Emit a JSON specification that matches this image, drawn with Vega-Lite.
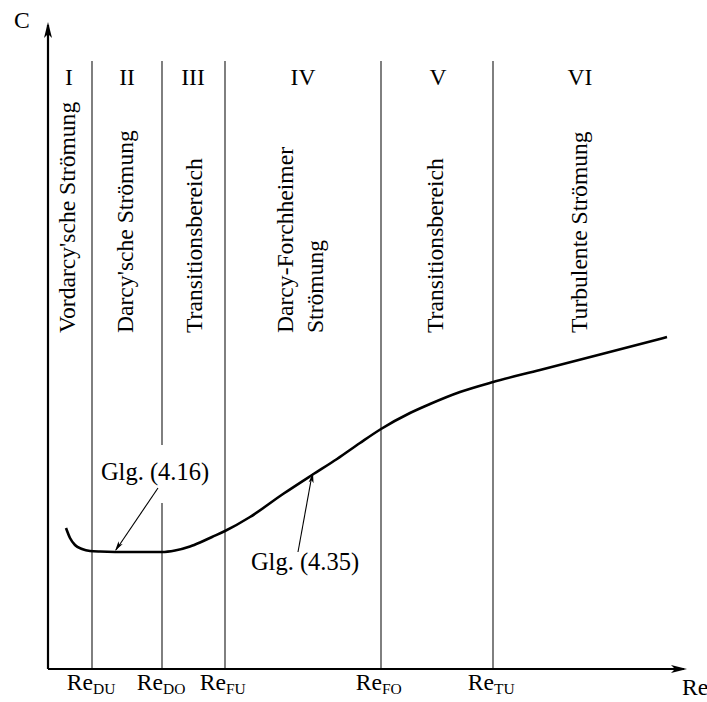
{
  "$schema": "https://vega.github.io/schema/vega-lite/v6.json",
  "width": 640,
  "height": 647,
  "autosize": {"type": "none"},
  "padding": {"left": 48, "top": 22, "right": 19, "bottom": 33},
  "background": "white",
  "config": {
    "view": {"stroke": null},
    "text": {"font": "Liberation Serif", "fontSize": 23.6, "color": "black"}
  },
  "datasets": {
    "vlines": [
      {"x": 44, "y1": 0, "y2": 608},
      {"x": 114, "y1": 0, "y2": 166},
      {"x": 114, "y1": 224, "y2": 608},
      {"x": 177, "y1": 0, "y2": 608},
      {"x": 333, "y1": 0, "y2": 608},
      {"x": 445, "y1": 0, "y2": 608}
    ],
    "axes": [
      {"x": 0, "y": 0, "x2": 0, "y2": 644},
      {"x": 0, "y": 0, "x2": 636, "y2": 0}
    ],
    "notes": [
      {"x": 110, "y": 181, "x2": 68, "y2": 119},
      {"x": 250, "y": 117, "x2": 264, "y2": 194}
    ],
    "heads": [
      {"name": "yaxis", "x": 0, "y": 647},
      {"name": "xaxis", "x": 639, "y": 0},
      {"name": "n416", "x": 67, "y": 118},
      {"name": "n435", "x": 265, "y": 196}
    ],
    "curve": [
      {"x": 18, "y": 141},
      {"x": 22, "y": 131},
      {"x": 27, "y": 124},
      {"x": 34, "y": 120},
      {"x": 42, "y": 118},
      {"x": 52, "y": 117.5},
      {"x": 82, "y": 117},
      {"x": 114, "y": 117},
      {"x": 127, "y": 118.5},
      {"x": 142, "y": 122.5},
      {"x": 152, "y": 126.5},
      {"x": 164, "y": 132},
      {"x": 177, "y": 138},
      {"x": 202, "y": 152},
      {"x": 235, "y": 175},
      {"x": 264, "y": 194},
      {"x": 289, "y": 210},
      {"x": 312, "y": 226},
      {"x": 333, "y": 240},
      {"x": 362, "y": 256},
      {"x": 382, "y": 265},
      {"x": 412, "y": 277},
      {"x": 445, "y": 287},
      {"x": 492, "y": 299},
      {"x": 552, "y": 314.5},
      {"x": 619, "y": 332}
    ],
    "regions": [
      {"x": 21, "label": "I"},
      {"x": 79, "label": "II"},
      {"x": 145, "label": "III"},
      {"x": 255, "label": "IV"},
      {"x": 390, "label": "V"},
      {"x": 532, "label": "VI"}
    ],
    "names": [
      {"x": 27, "text": "Vordarcy'sche Strömung"},
      {"x": 85, "text": "Darcy'sche Strömung"},
      {"x": 154, "text": "Transitionsbereich"},
      {"x": 245, "text": "Darcy-Forchheimer"},
      {"x": 275, "text": "Strömung"},
      {"x": 395, "text": "Transitionsbereich"},
      {"x": 539, "text": "Turbulente Strömung"}
    ],
    "ticks": [
      {"x": 44, "sub": "DU"},
      {"x": 114, "sub": "DO"},
      {"x": 177, "sub": "FU"},
      {"x": 333, "sub": "FO"},
      {"x": 445, "sub": "TU"}
    ],
    "glg": [
      {"x": 107, "y": 189, "text": "Glg. (4.16)"},
      {"x": 257, "y": 99, "text": "Glg. (4.35)"}
    ],
    "titles": [
      {"x": -26, "y": 641, "text": "C", "side": "y"},
      {"x": 634, "y": -26, "text": "Re", "side": "x"}
    ]
  },
  "layer": [
    {
      "data": {"name": "vlines"},
      "mark": {"type": "rule", "color": "#2a2a2a", "strokeWidth": 1.2},
      "encoding": {
        "x": {"field": "x", "type": "quantitative", "scale": {"domain": [0, 640], "nice": false, "zero": false}, "axis": null},
        "y": {"field": "y1", "type": "quantitative", "scale": {"domain": [0, 647], "nice": false, "zero": false}, "axis": null},
        "y2": {"field": "y2"}
      }
    },
    {
      "data": {"name": "axes"},
      "mark": {"type": "rule", "color": "black", "strokeWidth": 2.2},
      "encoding": {
        "x": {"field": "x", "type": "quantitative", "scale": {"domain": [0, 640], "nice": false, "zero": false}, "axis": null},
        "y": {"field": "y", "type": "quantitative", "scale": {"domain": [0, 647], "nice": false, "zero": false}, "axis": null},
        "x2": {"field": "x2"},
        "y2": {"field": "y2"}
      }
    },
    {
      "data": {"name": "notes"},
      "mark": {"type": "rule", "color": "black", "strokeWidth": 1.1},
      "encoding": {
        "x": {"field": "x", "type": "quantitative", "scale": {"domain": [0, 640], "nice": false, "zero": false}, "axis": null},
        "y": {"field": "y", "type": "quantitative", "scale": {"domain": [0, 647], "nice": false, "zero": false}, "axis": null},
        "x2": {"field": "x2"},
        "y2": {"field": "y2"}
      }
    },
    {
      "data": {"name": "curve"},
      "mark": {"type": "line", "interpolate": "monotone", "color": "black", "strokeWidth": 2.6},
      "encoding": {
        "x": {"field": "x", "type": "quantitative", "scale": {"domain": [0, 640], "nice": false, "zero": false}, "axis": null},
        "y": {"field": "y", "type": "quantitative", "scale": {"domain": [0, 647], "nice": false, "zero": false}, "axis": null}
      }
    },
    {
      "data": {"name": "heads"},
      "transform": [{"filter": "datum.name === 'yaxis'"}],
      "mark": {"type": "point", "shape": "M0,0L-0.5,2L0,1.5L0.5,2Z", "size": 256, "angle": 0, "filled": true, "opacity": 1, "color": "black", "strokeWidth": 0},
      "encoding": {
        "x": {"field": "x", "type": "quantitative", "scale": {"domain": [0, 640], "nice": false, "zero": false}, "axis": null},
        "y": {"field": "y", "type": "quantitative", "scale": {"domain": [0, 647], "nice": false, "zero": false}, "axis": null}
      }
    },
    {
      "data": {"name": "heads"},
      "transform": [{"filter": "datum.name === 'xaxis'"}],
      "mark": {"type": "point", "shape": "M0,0L-0.5,2L0,1.5L0.5,2Z", "size": 256, "angle": 90, "filled": true, "opacity": 1, "color": "black", "strokeWidth": 0},
      "encoding": {
        "x": {"field": "x", "type": "quantitative", "scale": {"domain": [0, 640], "nice": false, "zero": false}, "axis": null},
        "y": {"field": "y", "type": "quantitative", "scale": {"domain": [0, 647], "nice": false, "zero": false}, "axis": null}
      }
    },
    {
      "data": {"name": "heads"},
      "transform": [{"filter": "datum.name === 'n416'"}],
      "mark": {"type": "point", "shape": "M0,0L-0.5,2L0,1.5L0.5,2Z", "size": 100, "angle": 214, "filled": true, "opacity": 1, "color": "black", "strokeWidth": 0},
      "encoding": {
        "x": {"field": "x", "type": "quantitative", "scale": {"domain": [0, 640], "nice": false, "zero": false}, "axis": null},
        "y": {"field": "y", "type": "quantitative", "scale": {"domain": [0, 647], "nice": false, "zero": false}, "axis": null}
      }
    },
    {
      "data": {"name": "heads"},
      "transform": [{"filter": "datum.name === 'n435'"}],
      "mark": {"type": "point", "shape": "M0,0L-0.5,2L0,1.5L0.5,2Z", "size": 100, "angle": 11, "filled": true, "opacity": 1, "color": "black", "strokeWidth": 0},
      "encoding": {
        "x": {"field": "x", "type": "quantitative", "scale": {"domain": [0, 640], "nice": false, "zero": false}, "axis": null},
        "y": {"field": "y", "type": "quantitative", "scale": {"domain": [0, 647], "nice": false, "zero": false}, "axis": null}
      }
    },
    {
      "data": {"name": "regions"},
      "mark": {"type": "text", "align": "center", "baseline": "alphabetic"},
      "encoding": {
        "x": {"field": "x", "type": "quantitative", "scale": {"domain": [0, 640], "nice": false, "zero": false}, "axis": null},
        "y": {"datum": 584, "type": "quantitative", "scale": {"domain": [0, 647], "nice": false, "zero": false}, "axis": null},
        "text": {"field": "label"}
      }
    },
    {
      "data": {"name": "names"},
      "mark": {"type": "text", "angle": 270, "align": "left", "baseline": "alphabetic"},
      "encoding": {
        "x": {"field": "x", "type": "quantitative", "scale": {"domain": [0, 640], "nice": false, "zero": false}, "axis": null},
        "y": {"datum": 336, "type": "quantitative", "scale": {"domain": [0, 647], "nice": false, "zero": false}, "axis": null},
        "text": {"field": "text"}
      }
    },
    {
      "data": {"name": "ticks"},
      "mark": {"type": "text", "align": "right", "baseline": "alphabetic", "dx": 1},
      "encoding": {
        "x": {"field": "x", "type": "quantitative", "scale": {"domain": [0, 640], "nice": false, "zero": false}, "axis": null},
        "y": {"datum": -21, "type": "quantitative", "scale": {"domain": [0, 647], "nice": false, "zero": false}, "axis": null},
        "text": {"value": "Re"}
      }
    },
    {
      "data": {"name": "ticks"},
      "mark": {"type": "text", "align": "left", "baseline": "alphabetic", "dx": 1, "fontSize": 15.5},
      "encoding": {
        "x": {"field": "x", "type": "quantitative", "scale": {"domain": [0, 640], "nice": false, "zero": false}, "axis": null},
        "y": {"datum": -25, "type": "quantitative", "scale": {"domain": [0, 647], "nice": false, "zero": false}, "axis": null},
        "text": {"field": "sub"}
      }
    },
    {
      "data": {"name": "glg"},
      "mark": {"type": "text", "align": "center", "baseline": "alphabetic", "fontSize": 24.5},
      "encoding": {
        "x": {"field": "x", "type": "quantitative", "scale": {"domain": [0, 640], "nice": false, "zero": false}, "axis": null},
        "y": {"field": "y", "type": "quantitative", "scale": {"domain": [0, 647], "nice": false, "zero": false}, "axis": null},
        "text": {"field": "text"}
      }
    },
    {
      "data": {"name": "titles"},
      "mark": {"type": "text", "align": "left", "baseline": "alphabetic", "dx": -8},
      "transform": [{"filter": "datum.side === 'y'"}],
      "encoding": {
        "x": {"field": "x", "type": "quantitative", "scale": {"domain": [0, 640], "nice": false, "zero": false}, "axis": null},
        "y": {"field": "y", "type": "quantitative", "scale": {"domain": [0, 647], "nice": false, "zero": false}, "axis": null},
        "text": {"field": "text"}
      }
    },
    {
      "data": {"name": "titles"},
      "mark": {"type": "text", "align": "left", "baseline": "alphabetic"},
      "transform": [{"filter": "datum.side === 'x'"}],
      "encoding": {
        "x": {"field": "x", "type": "quantitative", "scale": {"domain": [0, 640], "nice": false, "zero": false}, "axis": null},
        "y": {"field": "y", "type": "quantitative", "scale": {"domain": [0, 647], "nice": false, "zero": false}, "axis": null},
        "text": {"field": "text"}
      }
    }
  ]
}
